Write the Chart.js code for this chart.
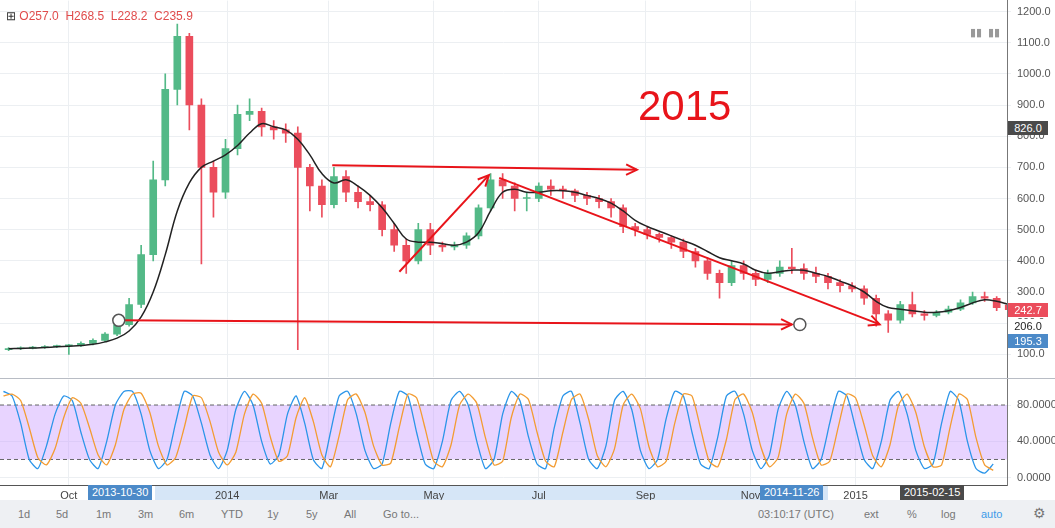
<!DOCTYPE html>
<html>
<head>
<meta charset="utf-8">
<script src="https://cdn.jsdelivr.net/npm/chart.js@4"></script>
<style>
  body { margin: 0; width: 1055px; height: 528px; background: #fff; font-family: "Liberation Sans", Arial, sans-serif; overflow: hidden; position: relative; }
  .abs { position: absolute; }
  #priceWrap { left: 0; top: -12px; width: 1055px; height: 402px; }
  #oscWrap { left: 0; top: 367px; width: 1055px; height: 140px; }
  .tag { position: absolute; left: 1008px; width: 40px; height: 14px; font-size: 11px; line-height: 14px; text-align: center; color: #fff; }
  .xtag { position: absolute; top: 485px; height: 15px; font-size: 11px; line-height: 15px; color: #fff; padding: 0 4px; }
  #toolbar { left: 0; top: 500px; width: 1055px; height: 28px; background: #eef0f3; font-size: 11px; color: #777; }
  #toolbar span { position: absolute; top: 8px; }
</style>
</head>
<body>
<div class="abs" id="priceWrap"><canvas id="price" width="1055" height="402"></canvas></div>
<div class="abs" style="left:0;top:378px;width:1055px;height:122px;background:#fff"></div>
<div class="abs" style="left:155px;top:485px;width:673px;height:15px;background:#d6e6f7"></div>
<div class="abs" id="oscWrap"><canvas id="osc" width="1055" height="140"></canvas></div>
<div class="abs" style="left:0;top:378px;width:1055px;height:1px;background:#b8bcc4"></div>
<div class="xtag" style="left:88px;background:#4c8ac8">2013-10-30</div>
<div class="xtag" style="left:760px;background:#4c8ac8">2014-11-26</div>
<div class="xtag" style="left:900px;background:#4a4a4a">2015-02-15</div>
<div class="abs" style="left:6px;top:9px;font-size:12px;color:#333">&#8862; <span style="color:#e04b4b">O257.0 &nbsp;H268.5 &nbsp;L228.2 &nbsp;C235.9</span></div>
<div class="abs" style="left:970px;top:26px;font-size:11px;color:#999">&#9646;&#9646; &nbsp;&#9646;&#9646;</div>
<div class="abs" style="left:638px;top:82px;font-size:42px;color:#e8141a">2015</div>
<div class="tag" style="top:121px;background:#4a4a4a">826.0</div>
<div class="tag" style="top:303px;background:#eb4d5c">242.7</div>
<div class="tag" style="top:319px;background:#fff;color:#222">206.0</div>
<div class="tag" style="top:334px;background:#4c8ac8">195.3</div>
<div class="abs" id="toolbar">
  <span style="left:18px">1d</span><span style="left:56px">5d</span><span style="left:96px">1m</span>
  <span style="left:138px">3m</span><span style="left:179px">6m</span><span style="left:221px">YTD</span>
  <span style="left:267px">1y</span><span style="left:306px">5y</span><span style="left:344px">All</span>
  <span style="left:383px">Go to...</span>
  <span style="left:758px">03:10:17 (UTC)</span><span style="left:864px">ext</span>
  <span style="left:907px">%</span><span style="left:941px">log</span>
  <span style="left:981px;color:#3d9be9">auto</span><span style="left:1033px;font-size:14px;top:5px">&#9881;</span>
</div>
<script>
// weekly candles, day 0 = 2013-08-24
const closes = [118,120,122,125,127,128,135,145,165,195,
  260,420,660,950,1120,900,700,620,760,870,
  880,830,820,810,700,640,580,670,620,590,
  580,500,450,400,500,450,445,450,480,570,
  660,640,600,600,640,630,625,610,600,590,
  570,510,500,485,475,460,430,400,360,330,
  385,360,340,360,380,375,360,350,330,320,
  310,280,230,210,260,230,225,235,245,265,
  285,280,250,243];
const opens = [115,118,120,122,125,127,128,135,145,165,
  195,260,420,660,950,1120,900,700,620,760,
  870,880,830,820,810,700,640,580,670,620,
  590,580,500,450,400,500,450,445,450,480,
  570,660,640,600,600,640,630,625,610,600,
  590,570,510,500,485,475,460,430,400,360,
  330,385,360,340,360,380,375,360,350,330,
  320,310,280,230,210,260,230,225,235,245,
  265,285,280,257];
const highs = [122,124,126,128,130,132,140,150,170,210,
  280,450,720,1000,1160,1130,920,720,790,900,
  920,890,850,840,830,710,660,700,690,640,
  610,590,520,470,520,520,460,460,490,580,
  680,680,650,620,650,660,640,630,620,610,
  600,580,520,510,490,480,470,440,410,370,
  400,400,370,370,400,440,390,380,360,340,
  330,320,290,240,270,300,240,240,255,275,
  300,300,285,262];
const lows = [112,115,117,119,121,100,125,130,140,160,
  190,250,400,640,900,820,390,540,600,740,
  850,800,790,780,115,560,540,570,590,570,
  560,480,430,360,390,420,430,435,440,470,
  560,600,560,560,590,610,600,590,580,570,
  540,490,480,470,460,440,410,380,340,280,
  320,340,320,330,350,360,340,330,310,300,
  300,260,190,170,200,220,210,220,230,240,
  260,270,240,228];
const maLine = [118,119,120,122,124,126,128,132,140,152,
  175,220,300,420,560,650,700,720,740,770,
  810,840,830,820,790,740,680,650,660,640,
  610,570,520,470,460,460,455,450,460,490,
  560,620,630,620,620,625,625,620,610,600,
  585,560,530,510,495,480,465,450,430,410,
  400,390,370,360,365,370,370,360,350,335,
  320,300,270,250,245,240,235,235,240,250,
  265,275,270,260];
// stoch RSI, one value every 5 days
const stochK = [95,90,60,20,10,35,70,90,85,50,
  20,10,40,80,95,95,70,30,10,20,
  60,95,90,60,25,10,30,75,95,80,
  40,15,25,70,90,60,20,10,50,90,
  95,70,30,10,15,60,95,90,50,15,
  10,40,85,95,80,40,10,20,70,95,
  85,45,15,10,55,90,95,60,20,10,
  35,85,95,75,30,10,20,65,95,90,
  50,15,10,45,90,95,70,30,10,25,
  75,95,80,40,10,20,60,95,90,55,
  20,10,40,85,95,70,30,10,15,60,
  95,85,40,10,5,15];
const stochD = [90,92,85,55,22,14,32,66,88,82,
  55,25,14,36,75,92,93,72,35,14,
  22,55,90,88,62,28,14,28,70,92,
  82,45,18,24,66,88,62,25,12,46,
  86,92,72,35,14,16,56,92,88,54,
  18,12,36,80,92,82,44,14,18,66,
  92,86,50,18,12,50,86,92,64,24,
  12,32,80,92,76,34,12,18,60,92,
  90,54,18,12,42,86,92,72,34,12,
  22,70,92,82,44,14,18,56,92,88,
  58,24,12,36,80,92,72,34,12,14,
  56,92,86,44,14,8];
const monthTicks = [38, 130, 189, 250, 311, 373, 434, 495];
const monthNames = ["Oct", "2014", "Mar", "May", "Jul", "Sep", "Nov", "2015"];
// annotation arrows in [day, price]
const arrows = [
  [[67, 209], [458, 196], "circles"],
  [[191, 707], [368, 692], "arrow"],
  [[230, 365], [282, 675], "arrow"],
  [[288, 666], [509, 196], "arrow"]
];

const UP = "#53b987", DOWN = "#eb4d5c";
const dayOf = i => i * 7 + 3;
const candleColors = closes.map((c, i) => (c >= opens[i] ? UP : DOWN));
const X_MIN = -2, X_MAX = 583;

const arrowPlugin = {
  id: "arrows",
  afterDatasetsDraw(chart) {
    const { ctx, scales: { x, y } } = chart;
    ctx.save();
    ctx.strokeStyle = "#e8141a";
    ctx.lineWidth = 2;
    arrows.forEach(([a, b, kind]) => {
      const x1 = x.getPixelForValue(a[0]), y1 = y.getPixelForValue(a[1]);
      const x2 = x.getPixelForValue(b[0]), y2 = y.getPixelForValue(b[1]);
      ctx.beginPath(); ctx.moveTo(x1, y1); ctx.lineTo(x2, y2); ctx.stroke();
      const ang = Math.atan2(y2 - y1, x2 - x1);
      ctx.beginPath();
      ctx.moveTo(x2 - 12 * Math.cos(ang - 0.45), y2 - 12 * Math.sin(ang - 0.45));
      ctx.lineTo(x2, y2);
      ctx.lineTo(x2 - 12 * Math.cos(ang + 0.45), y2 - 12 * Math.sin(ang + 0.45));
      ctx.stroke();
      if (kind === "circles") {
        ctx.fillStyle = "#fff"; ctx.strokeStyle = "#555"; ctx.lineWidth = 1.5;
        [[x1, y1], [x2 + 8, y2]].forEach(p => {
          ctx.beginPath(); ctx.arc(p[0], p[1], 6, 0, Math.PI * 2); ctx.fill(); ctx.stroke();
        });
        ctx.strokeStyle = "#e8141a"; ctx.lineWidth = 2;
      }
    });
    ctx.restore();
  }
};

const bandPlugin = {
  id: "band",
  beforeDatasetsDraw(chart) {
    const { ctx, chartArea, scales: { y } } = chart;
    const t = y.getPixelForValue(80), b = y.getPixelForValue(20);
    ctx.save();
    ctx.fillStyle = "rgba(205,160,255,0.45)";
    ctx.fillRect(chartArea.left, t, chartArea.right - chartArea.left, b - t);
    ctx.setLineDash([4, 3]); ctx.strokeStyle = "#666"; ctx.lineWidth = 1;
    [t, b].forEach(p => { ctx.beginPath(); ctx.moveTo(chartArea.left, p); ctx.lineTo(chartArea.right, p); ctx.stroke(); });
    ctx.restore();
  }
};

function gridX() {
  return {
    type: "linear", min: X_MIN, max: X_MAX, offset: false,
    afterBuildTicks: s => { s.ticks = monthTicks.map(v => ({ value: v })); },
    grid: { color: "#eceff2", drawTicks: false, offset: false },
    border: { display: false }
  };
}

Chart.defaults.font.family = "'Liberation Sans', Arial, sans-serif";
Chart.defaults.animation = false;

new Chart(document.getElementById("price"), {
  type: "bar",
  data: {
    datasets: [
      { data: highs.map((h, i) => ({ x: dayOf(i), y: [lows[i], h] })), backgroundColor: candleColors, barThickness: 1, grouped: false, order: 3 },
      { data: closes.map((c, i) => ({ x: dayOf(i), y: [opens[i], c] })), backgroundColor: candleColors, barThickness: 7, grouped: false, minBarLength: 1, order: 2 },
      { type: "line", data: maLine.map((v, i) => ({ x: dayOf(i), y: v })), borderColor: "#222", borderWidth: 1.5, pointRadius: 0, tension: 0.4, order: 1 }
    ]
  },
  options: {
    responsive: false, maintainAspectRatio: false,
    layout: { padding: 0 },
    plugins: { legend: { display: false }, tooltip: { enabled: false } },
    scales: {
      x: Object.assign(gridX(), { ticks: { display: false } }),
      y: {
        position: "right", min: 26, max: 1235,
        afterBuildTicks: s => { s.ticks = [100,200,300,400,500,600,700,800,900,1000,1100,1200].map(v => ({ value: v })); },
        ticks: { color: "#555", font: { size: 11 }, padding: 6, callback: v => v.toFixed(1) },
        grid: { color: "#eceff2", tickLength: 4 },
        border: { color: "#777" },
        afterFit: s => { s.width = 48; }
      }
    }
  },
  plugins: [arrowPlugin]
});

new Chart(document.getElementById("osc"), {
  type: "line",
  data: {
    datasets: [
      { data: stochD.map((v, i) => ({ x: i * 5, y: v })), borderColor: "#f39c32", borderWidth: 1.3, pointRadius: 0, tension: 0.2 },
      { data: stochK.map((v, i) => ({ x: i * 5, y: v })), borderColor: "#2b95e9", borderWidth: 1.3, pointRadius: 0, tension: 0.2 }
    ]
  },
  options: {
    responsive: false, maintainAspectRatio: false,
    layout: { padding: 0 },
    plugins: { legend: { display: false }, tooltip: { enabled: false } },
    scales: {
      x: Object.assign(gridX(), {
        ticks: { color: "#444", font: { size: 11 }, padding: 4, callback: (v, i) => monthNames[i] },
        border: { display: true, color: "#555" }
      }),
      y: {
        position: "right", min: -9, max: 108,
        afterBuildTicks: s => { s.ticks = [0, 40, 80].map(v => ({ value: v })); },
        ticks: { color: "#555", font: { size: 11 }, padding: 6, callback: v => v.toFixed(4) },
        grid: { color: "#eceff2", tickLength: 4 },
        border: { color: "#777" },
        afterFit: s => { s.width = 48; }
      }
    }
  },
  plugins: [bandPlugin]
});
</script>
</body>
</html>
